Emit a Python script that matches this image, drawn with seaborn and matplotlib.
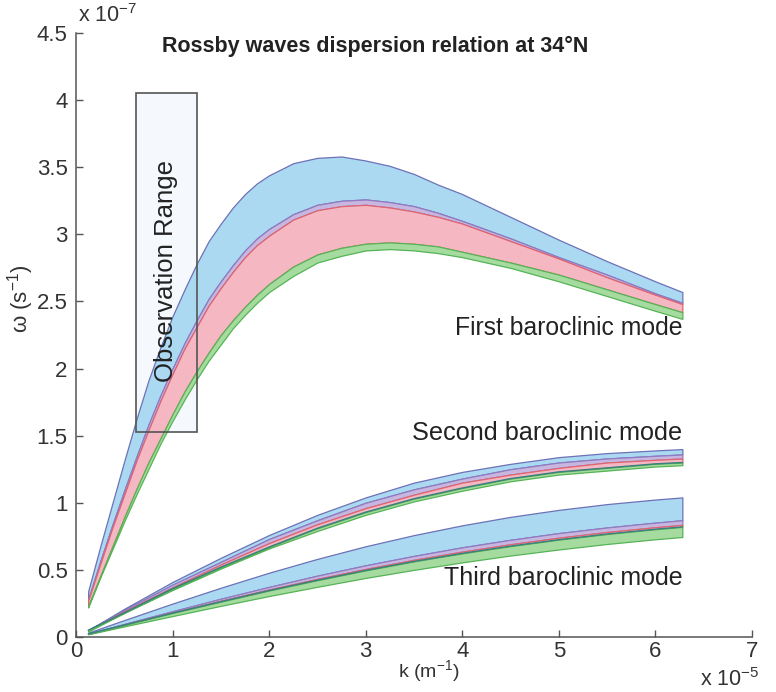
import numpy as np
import pandas as pd
import matplotlib
matplotlib.use("Agg")
import matplotlib.pyplot as plt
from matplotlib.patches import Rectangle
import seaborn as sns

# wavenumber samples (units of 1e-5 m^-1)
k_mode1 = [0.126, 0.25, 0.375, 0.5, 0.625, 0.75, 0.875, 1.0, 1.125, 1.25, 1.375, 1.5,
           1.625, 1.75, 1.875, 2.0, 2.25, 2.5, 2.75, 3.0, 3.25, 3.5, 3.75, 4.0, 4.5,
           5.0, 5.5, 6.0, 6.28]
k_modes23 = [0.126, 0.5, 1.0, 1.5, 2.0, 2.5, 3.0, 3.5, 4.0, 4.5, 5.0, 5.5, 6.0, 6.28]

# frequency boundaries (units of 1e-7 s^-1), top to bottom
mode1_c0 = [0.34, 0.67, 0.99, 1.31, 1.62, 1.91, 2.16, 2.39, 2.59, 2.78, 2.95, 3.08, 3.20, 3.30,
            3.38, 3.44, 3.53, 3.57, 3.58, 3.55, 3.51, 3.45, 3.37, 3.30, 3.13, 2.96, 2.80, 2.65, 2.57]
mode1_c1 = [0.28, 0.56, 0.83, 1.09, 1.34, 1.58, 1.80, 2.00, 2.19, 2.36, 2.52, 2.65, 2.77, 2.88,
            2.97, 3.04, 3.15, 3.22, 3.25, 3.26, 3.24, 3.21, 3.16, 3.10, 2.97, 2.83, 2.70, 2.56, 2.49]
mode1_c2 = [0.27, 0.54, 0.81, 1.06, 1.31, 1.54, 1.76, 1.96, 2.15, 2.31, 2.47, 2.60, 2.72, 2.83,
            2.92, 2.99, 3.11, 3.18, 3.21, 3.22, 3.20, 3.17, 3.13, 3.08, 2.95, 2.82, 2.68, 2.55, 2.48]
mode1_c3 = [0.23, 0.45, 0.67, 0.89, 1.10, 1.30, 1.48, 1.66, 1.83, 1.98, 2.12, 2.25, 2.36, 2.46,
            2.55, 2.63, 2.76, 2.85, 2.90, 2.93, 2.94, 2.93, 2.91, 2.87, 2.79, 2.70, 2.59, 2.48, 2.42]
mode1_c4 = [0.22, 0.44, 0.65, 0.86, 1.06, 1.25, 1.44, 1.61, 1.77, 1.92, 2.06, 2.18, 2.30, 2.40,
            2.49, 2.57, 2.69, 2.79, 2.84, 2.88, 2.89, 2.88, 2.86, 2.83, 2.75, 2.65, 2.54, 2.43, 2.37]

mode2_c0 = [0.05, 0.21, 0.41, 0.59, 0.76, 0.91, 1.04, 1.15, 1.23, 1.29, 1.34, 1.37, 1.39, 1.40]
mode2_c1 = [0.05, 0.20, 0.39, 0.56, 0.73, 0.87, 1.00, 1.10, 1.18, 1.25, 1.30, 1.33, 1.35, 1.36]
mode2_c2 = [0.05, 0.19, 0.37, 0.54, 0.70, 0.84, 0.96, 1.06, 1.15, 1.21, 1.26, 1.30, 1.32, 1.33]
mode2_c3 = [0.05, 0.18, 0.36, 0.52, 0.67, 0.81, 0.93, 1.03, 1.11, 1.18, 1.23, 1.26, 1.29, 1.30]
mode2_c4 = [0.04, 0.18, 0.35, 0.51, 0.66, 0.79, 0.91, 1.01, 1.09, 1.16, 1.21, 1.24, 1.27, 1.28]

mode3_c0 = [0.032, 0.126, 0.249, 0.367, 0.479, 0.582, 0.676, 0.759, 0.832, 0.895, 0.947, 0.990, 1.024, 1.040]
mode3_c1 = [0.024, 0.097, 0.192, 0.285, 0.373, 0.457, 0.534, 0.604, 0.668, 0.724, 0.774, 0.816, 0.852, 0.870]
mode3_c2 = [0.023, 0.092, 0.182, 0.270, 0.354, 0.433, 0.507, 0.575, 0.636, 0.691, 0.740, 0.782, 0.818, 0.835]
mode3_c3 = [0.023, 0.089, 0.178, 0.263, 0.346, 0.423, 0.496, 0.563, 0.623, 0.677, 0.725, 0.767, 0.803, 0.820]
mode3_c4 = [0.020, 0.079, 0.156, 0.232, 0.305, 0.374, 0.440, 0.500, 0.556, 0.607, 0.652, 0.693, 0.728, 0.745]

obs_k = (0.62, 1.25)
obs_w = (1.53, 4.05)
x_ticks = [0, 1, 2, 3, 4, 5, 6, 7]
y_ticks = [0, 0.5, 1, 1.5, 2, 2.5, 3, 3.5, 4, 4.5]
y_tick_labels = ['0', '0.5', '1', '1.5', '2', '2.5', '3', '3.5', '4', '4.5']

modes = {
    1: (k_mode1, [mode1_c0, mode1_c1, mode1_c2, mode1_c3, mode1_c4]),
    2: (k_modes23, [mode2_c0, mode2_c1, mode2_c2, mode2_c3, mode2_c4]),
    3: (k_modes23, [mode3_c0, mode3_c1, mode3_c2, mode3_c3, mode3_c4]),
}

sns.set_style("ticks")
plt.rcParams['font.family'] = ['Liberation Sans', 'DejaVu Sans']
plt.rcParams['mathtext.fontset'] = 'custom'
plt.rcParams['mathtext.rm'] = 'Liberation Sans'
plt.rcParams['mathtext.it'] = 'Liberation Sans:italic'
plt.rcParams['mathtext.bf'] = 'Liberation Sans:bold'

fig = plt.figure(figsize=(7.76, 6.92), dpi=100)
ax = fig.add_axes([0.0979, 0.0795, 0.871, 0.8728])

fills = ['#acd9f2', '#c7b6df', '#f5b8c3', '#a6dba0']
edges = ['#6c72b6', '#927bc0', '#e0646e', '#55b455']

ax.add_patch(Rectangle((obs_k[0], obs_w[0]), obs_k[1] - obs_k[0], obs_w[1] - obs_w[0],
                       facecolor='#f5f9fd', edgecolor='none', zorder=0))

for m, (kk, curves) in modes.items():
    kk = np.asarray(kk)
    for b in range(4):
        hi = np.asarray(curves[b])
        lo = np.asarray(curves[b + 1])
        ax.fill_between(kk, lo, hi, facecolor=fills[b], edgecolor=edges[b], lw=0.9, zorder=2 + b)
    if m in (2, 3):
        df = pd.DataFrame({'k': kk, 'w': curves[3]})
        sns.lineplot(data=df, x='k', y='w', color='#3b7f80', lw=1.0, ax=ax, zorder=7,
                     sort=False, estimator=None)

ax.add_patch(Rectangle((obs_k[0], obs_w[0]), obs_k[1] - obs_k[0], obs_w[1] - obs_w[0],
                       facecolor='none', edgecolor='#555555', lw=1.2, zorder=10))

ax.set_xlim(0, 7)
ax.set_ylim(0, 4.5)
ax.set_xlabel('')
ax.set_ylabel('')
sns.despine(ax=ax)
ax.set_xticks(x_ticks)
ax.set_xticklabels([str(t) for t in x_ticks])
ax.set_yticks(y_ticks)
ax.set_yticklabels(y_tick_labels)
ax.tick_params(direction='in', length=5, width=1, color='#555555', labelsize=16,
               labelcolor='#333333')
ax.tick_params(axis='y', pad=6)
ax.tick_params(axis='x', pad=3)
for s in ('left', 'bottom'):
    ax.spines[s].set_color('#555555')
    ax.spines[s].set_linewidth(1.1)

ax.text(3.1, 4.40, 'Rossby waves dispersion relation at 34°N', ha='center', va='center',
        fontsize=15.5, fontweight='bold', color='#222222')
ax.text(0.93, 2.73, 'Observation Range', rotation=90, ha='center', va='center', fontsize=18.5,
        color='#222222', zorder=11)
ax.text(6.28, 2.30, 'First baroclinic mode', ha='right', va='center', fontsize=17.8,
        color='#222222', zorder=11)
ax.text(6.28, 1.52, 'Second baroclinic mode', ha='right', va='center', fontsize=18.2,
        color='#222222', zorder=11)
ax.text(6.28, 0.44, 'Third baroclinic mode', ha='right', va='center', fontsize=18,
        color='#222222', zorder=11)

fig.text(0.1005, 0.978, 'x 10$^{-7}$', ha='left', va='center', fontsize=15.5, color='#333333')
fig.text(0.902, 0.018, 'x 10$^{-5}$', ha='left', va='center', fontsize=15.5, color='#333333')
fig.text(0.553, 0.030, 'k (m$^{-1}$)', ha='center', va='center', fontsize=14, color='#333333')
fig.text(0.026, 0.568, 'ω (s$^{-1}$)', ha='center', va='center', rotation=90, fontsize=16,
         color='#333333')

fig.savefig("out.png")
